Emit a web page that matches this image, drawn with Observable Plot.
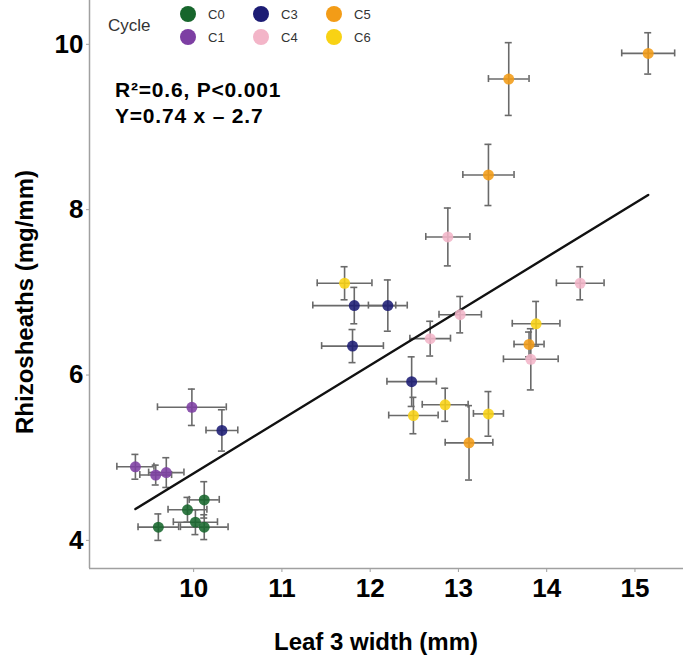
<!DOCTYPE html>
<html><head><meta charset="utf-8">
<script src="https://cdn.jsdelivr.net/npm/d3@7"></script>
<script src="https://cdn.jsdelivr.net/npm/@observablehq/plot@0.6"></script>
<style>
body{margin:0;background:#fff;}
#chart{position:relative;width:688px;height:664px;}
</style>
</head><body><div id="chart"></div>
<script>
// ---- data ----
const cycle = ["C0","C0","C0","C0","C0",
               "C1","C1","C1","C1",
               "C3","C3","C3","C3","C3",
               "C4","C4","C4","C4","C4",
               "C5","C5","C5","C5","C5",
               "C6","C6","C6","C6","C6"];
const leafWidth = [9.60, 9.93, 10.02, 10.12, 10.12,
                   9.98, 9.34, 9.57, 9.69,
                   10.32, 11.82, 12.20, 12.47, 11.80,
                   14.38, 13.02, 12.68, 13.82, 12.88,
                   15.15, 13.57, 13.34, 13.80, 13.12,
                   11.71, 13.88, 12.49, 12.85, 13.34];
const leafWidthSE = [0.23, 0.22, 0.25, 0.27, 0.17,
                     0.39, 0.21, 0.18, 0.20,
                     0.18, 0.47, 0.22, 0.28, 0.35,
                     0.27, 0.24, 0.23, 0.31, 0.25,
                     0.30, 0.23, 0.29, 0.17, 0.27,
                     0.31, 0.27, 0.28, 0.26, 0.17];
const rhizosheath = [4.16, 4.37, 4.22, 4.16, 4.49,
                     5.61, 4.89, 4.79, 4.82,
                     5.33, 6.84, 6.84, 5.92, 6.35,
                     7.11, 6.73, 6.44, 6.19, 7.67,
                     9.89, 9.58, 8.42, 6.37, 5.18,
                     7.11, 6.62, 5.51, 5.64, 5.53];
const rhizosheathSE = [0.16, 0.15, 0.15, 0.15, 0.22,
                       0.22, 0.15, 0.12, 0.18,
                       0.25, 0.22, 0.31, 0.30, 0.20,
                       0.20, 0.22, 0.21, 0.37, 0.35,
                       0.25, 0.44, 0.37, 0.15, 0.45,
                       0.20, 0.27, 0.22, 0.20, 0.27];
const cycleDomain = ["C0","C1","C3","C4","C5","C6"];
const cycleColors = ["#17662c","#7d3fa3","#1c1c74","#f3b5c8","#f39c17","#f8d214"];
const legendOrder = ["C0","C1","C3","C4","C5","C6"];
const xTicks = [10, 11, 12, 13, 14, 15];
const yTicks = [4, 6, 8, 10];
const xDomain = [8.82, 15.55];
const yDomain = [3.66, 10.53];
const statLines = ["R\u00B2=0.6, P<0.001", "Y=0.74 x \u2013 2.7"];
const xTitle = "Leaf 3 width (mm)";
const yTitle = "Rhizosheaths (mg/mm)";
const legendTitle = "Cycle";

// ---- build table ----
const rows = cycle.map((c, i) => ({
  cycle: c, x: leafWidth[i], xe: leafWidthSE[i], y: rhizosheath[i], ye: rhizosheathSE[i]
}));

const barStroke = "#6a6a6a";
const cap = -3.5;

const svg = Plot.plot({
  width: 688, height: 664,
  marginLeft: 89, marginRight: 5, marginTop: 0, marginBottom: 96,
  style: {fontFamily: "Liberation Sans, Arial, sans-serif", background: "#fff", color: "#000"},
  x: {domain: xDomain, ticks: xTicks, tickFormat: d3.format("d"), tickSize: 4, tickPadding: 6, label: null},
  y: {domain: yDomain, ticks: yTicks, tickFormat: d3.format("d"), tickSize: 3, tickPadding: 3, label: null},
  color: {domain: cycleDomain, range: cycleColors},
  marks: [
    Plot.ruleX([xDomain[0]], {stroke: "#a0a0a0", strokeWidth: 1.5}),
    Plot.ruleY([yDomain[0]], {stroke: "#a0a0a0", strokeWidth: 1.5}),
    // horizontal error bars
    Plot.ruleY(rows, {y: "y", x1: d => d.x - d.xe, x2: d => d.x + d.xe, stroke: barStroke, strokeWidth: 1.6}),
    Plot.ruleX(rows, {x: d => d.x - d.xe, y1: "y", y2: "y", insetTop: cap, insetBottom: cap, stroke: barStroke, strokeWidth: 1.6}),
    Plot.ruleX(rows, {x: d => d.x + d.xe, y1: "y", y2: "y", insetTop: cap, insetBottom: cap, stroke: barStroke, strokeWidth: 1.6}),
    // vertical error bars
    Plot.ruleX(rows, {x: "x", y1: d => d.y - d.ye, y2: d => d.y + d.ye, stroke: barStroke, strokeWidth: 1.6}),
    Plot.ruleY(rows, {y: d => d.y - d.ye, x1: "x", x2: "x", insetLeft: cap, insetRight: cap, stroke: barStroke, strokeWidth: 1.6}),
    Plot.ruleY(rows, {y: d => d.y + d.ye, x1: "x", x2: "x", insetLeft: cap, insetRight: cap, stroke: barStroke, strokeWidth: 1.6}),
    Plot.linearRegressionY(rows, {x: "x", y: "y", ci: 0, stroke: "#111", strokeWidth: 2.4}),
    Plot.dot(rows, {x: "x", y: "y", fill: "cycle", r: 5.5, fillOpacity: 0.88})
  ]
});

const s = d3.select(svg);
// axis styling
s.selectAll('g[aria-label^="x-axis"] text, g[aria-label^="y-axis"] text')
  .style("font-size", "26px").style("font-weight", "bold").attr("fill", "#000");
s.selectAll('g[aria-label^="x-axis"] path, g[aria-label^="y-axis"] path, g[aria-label^="x-axis"] line, g[aria-label^="y-axis"] line')
  .attr("stroke", "#a0a0a0");

// axis titles
s.append("text").attr("x", 376).attr("y", 650).attr("text-anchor", "middle")
  .style("font-size", "24px").style("font-weight", "bold").text(xTitle);
s.append("text").attr("transform", "translate(33,302) rotate(-90)").attr("text-anchor", "middle")
  .style("font-size", "24px").style("font-weight", "bold").text(yTitle);

// stats annotation
statLines.forEach((t, i) => {
  s.append("text").attr("x", 115).attr("y", 97 + i * 26).attr("text-anchor", "start")
    .style("font-size", "21px").style("font-weight", "bold").style("letter-spacing", "0.8px")
    .text(t);
});

// legend
const lg = s.append("g").attr("text-anchor", "start");
lg.append("text").attr("x", 108).attr("y", 25).attr("dy", "0.35em")
  .style("font-size", "17px").attr("fill", "#333").text(legendTitle);
legendOrder.forEach((c, i) => {
  const col = Math.floor(i / 2), row = i % 2;
  const cx = 188 + col * 73, cy = 14 + row * 23;
  lg.append("circle").attr("cx", cx).attr("cy", cy).attr("r", 8)
    .attr("fill", cycleColors[cycleDomain.indexOf(c)]);
  lg.append("text").attr("x", cx + 20).attr("y", cy).attr("dy", "0.35em")
    .style("font-size", "13px").attr("fill", "#333").text(c);
});

document.getElementById("chart").appendChild(svg);
</script>
</body></html>
